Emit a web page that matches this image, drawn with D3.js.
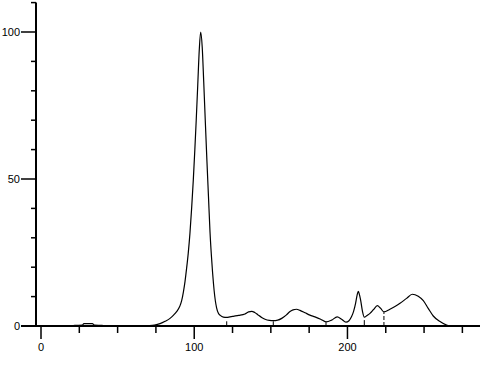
<!DOCTYPE html>
<html>
<head>
<meta charset="utf-8">
<script src="https://cdn.jsdelivr.net/npm/d3@7"></script>
<style>
  body { margin: 0; background: #fff; }
  svg { display: block; }
</style>
</head>
<body>
<div id="graph"></div>
<script>
// retention time / relative intensity
var rt = [20, 22, 27, 28, 33.5, 35, 40, 41.5, 65, 70, 74, 77.7, 81, 84.2, 86.5, 88.5, 90.5, 91.8, 93, 94,
    95, 96.1, 97.2, 98.3, 99.4, 100.4, 101.3, 102.3, 103.3, 104.2, 105.2, 106.2, 107.2, 108.3, 109.3, 110.3,
    111.2, 112, 113, 113.8, 114.6, 115.7, 117, 119, 121.2, 123.3, 125.5, 129, 133.1, 135.5, 137.5, 139.5,
    141.8, 144, 146.2, 149, 151.6, 154.5, 157.1, 160, 162.5, 164.5, 166.8, 169, 172.3, 175.5, 178.8, 182.5,
    186, 189.7, 193.3, 196.2, 199, 201, 202.7, 204, 205.3, 206.3, 207.1, 207.9, 208.6, 209.8, 211, 212.8,
    214.7, 217, 219.5, 221.5, 223.8, 227.7, 231, 234.3, 238.6, 242.3, 246.2, 249.5, 252.7, 256, 260.4,
    264.7, 267];
var intensity = [0, 0.2, 0.3, 0.8, 0.8, 0.3, 0.2, 0, 0, 0.1, 0.3, 0.8, 1.6, 2.6, 3.7, 4.9, 6.6, 8.6, 11.8, 15.2,
    19.5, 24.8, 31.5, 40, 49.7, 60, 70, 82, 94, 100, 95, 83, 70, 56, 44, 32,
    24, 18, 12, 8.5, 6.2, 4.4, 3.6, 3.0, 2.9, 3.1, 3.3, 3.6, 4.1, 4.8, 5.0, 4.6,
    3.7, 2.9, 2.3, 1.9, 1.8, 2.0, 2.6, 3.7, 4.9, 5.5, 5.7, 5.3, 4.5, 3.7, 3.1, 2.3,
    1.4, 2.0, 3.1, 2.3, 1.3, 1.8, 3.2, 5, 7.7, 10.5, 11.8, 10.5, 8.8, 5, 3.0, 3.6,
    4.3, 5.6, 6.9, 6.1, 4.8, 5.7, 6.6, 7.7, 9.4, 10.8, 10.1, 8.6, 6.0, 3.4, 1.5,
    0.3, 0];

// peak separation marks
var dropRt = [121.2, 151.6, 186, 211, 223.8];
var dropTop = [1.6, 1.6, 1.3, 2.0, 4.7];

var xMajor = [0, 100, 200];
var xMinor = [25, 50, 75, 125, 150, 175, 225, 250, 275];
var yMajor = [0, 50, 100];
var yMinor = [10, 20, 30, 40, 60, 70, 80, 90, 110];

init();

function init() {
    var w = 499, h = 372;
    var vis = d3.select("#graph").append("svg")
        .attr("width", w)
        .attr("height", h);

    var x = d3.scaleLinear().domain([0, 286.5]).range([41, 480]);
    var y = d3.scaleLinear().domain([0, 110]).range([326, 2.6]);

    var font = "11px 'Liberation Sans', Arial, sans-serif";

    // axes lines
    vis.append("line")
        .attr("x1", 36).attr("x2", 36)
        .attr("y1", y(0)).attr("y2", y(110))
        .attr("stroke", "black").attr("stroke-width", 2);
    vis.append("line")
        .attr("x1", 21).attr("x2", 480)
        .attr("y1", y(0)).attr("y2", y(0))
        .attr("stroke", "black").attr("stroke-width", 2);

    // y ticks
    vis.selectAll(".ymaj").data(yMajor).enter().append("line")
        .attr("class", "ymaj")
        .attr("x1", 21).attr("x2", 36)
        .attr("y1", function(d) { return y(d); })
        .attr("y2", function(d) { return y(d); })
        .attr("stroke", "black").attr("stroke-width", 1.5);
    vis.selectAll(".ymin").data(yMinor).enter().append("line")
        .attr("class", "ymin")
        .attr("x1", 31).attr("x2", 36)
        .attr("y1", function(d) { return y(d); })
        .attr("y2", function(d) { return y(d); })
        .attr("stroke", "black").attr("stroke-width", 1.5);
    vis.selectAll(".ylab").data(yMajor).enter().append("text")
        .attr("class", "ylab")
        .attr("x", 20)
        .attr("y", function(d) { return y(d); })
        .attr("dy", ".35em")
        .attr("text-anchor", "end")
        .style("font", font)
        .text(function(d) { return d; });

    // x ticks
    vis.selectAll(".xmaj").data(xMajor).enter().append("line")
        .attr("class", "xmaj")
        .attr("x1", function(d) { return x(d); })
        .attr("x2", function(d) { return x(d); })
        .attr("y1", 326).attr("y2", 339)
        .attr("stroke", "black").attr("stroke-width", 1.5);
    vis.selectAll(".xmin").data(xMinor).enter().append("line")
        .attr("class", "xmin")
        .attr("x1", function(d) { return x(d); })
        .attr("x2", function(d) { return x(d); })
        .attr("y1", 326).attr("y2", 333)
        .attr("stroke", "black").attr("stroke-width", 1.5);
    vis.selectAll(".xlab").data(xMajor).enter().append("text")
        .attr("class", "xlab")
        .attr("x", function(d) { return x(d); })
        .attr("y", 347)
        .attr("dy", ".35em")
        .attr("text-anchor", "middle")
        .style("font", font)
        .text(function(d) { return d; });

    // drop lines
    vis.selectAll(".drop").data(dropRt).enter().append("line")
        .attr("class", "drop")
        .attr("x1", function(d) { return x(d); })
        .attr("x2", function(d) { return x(d); })
        .attr("y1", y(0))
        .attr("y2", function(d, i) { return y(dropTop[i]); })
        .attr("stroke", "black").attr("stroke-width", 1)
        .attr("stroke-dasharray", function(d, i) { return i == dropRt.length - 1 ? "4,2" : null; });

    // trace
    var pts = rt.map(function(d, i) { return [d, intensity[i]]; });
    var line = d3.line()
        .x(function(d) { return x(d[0]); })
        .y(function(d) { return y(d[1]); })
        .curve(d3.curveMonotoneX);
    vis.append("path")
        .attr("d", line(pts))
        .attr("fill", "none")
        .attr("stroke", "black")
        .attr("stroke-width", 1.2);
}
</script>
</body>
</html>
